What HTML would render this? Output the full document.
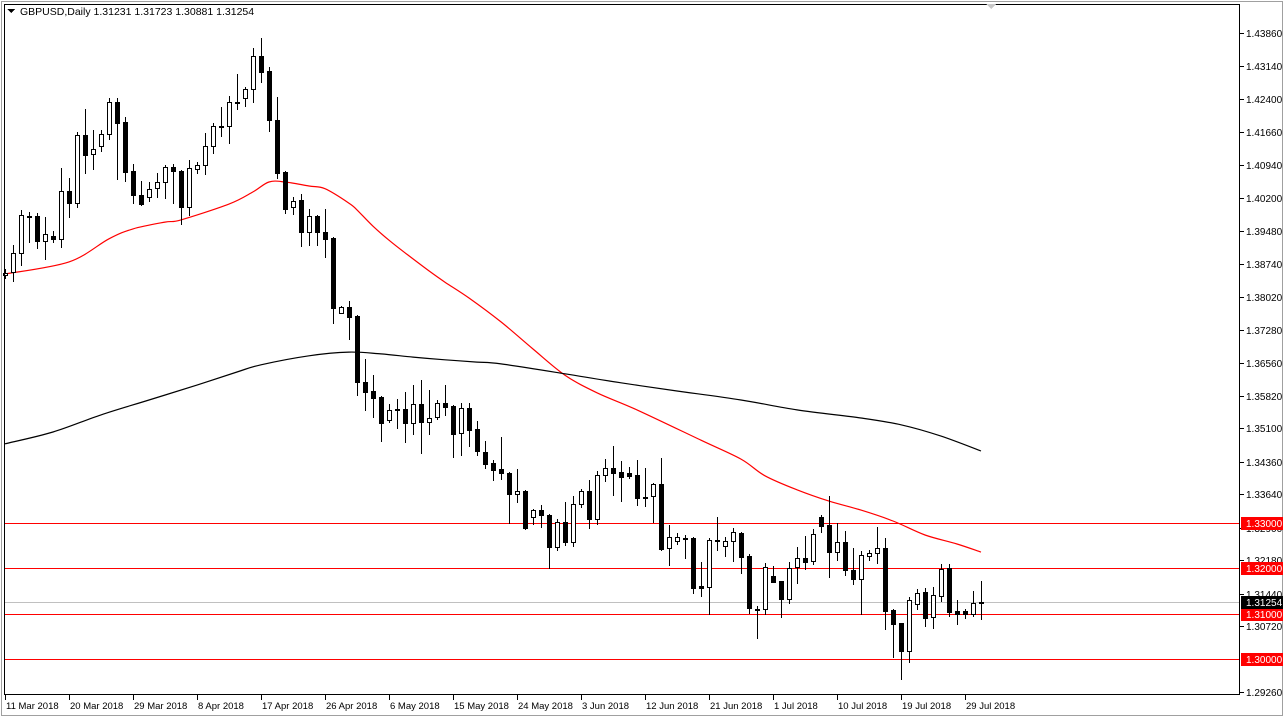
<!DOCTYPE html>
<html><head><meta charset="utf-8"><style>
html,body{margin:0;padding:0;background:#fff;}
svg{display:block;font-family:"Liberation Sans",sans-serif;}
</style></head><body>
<svg id="chart" width="1285" height="719" viewBox="0 0 1285 719" shape-rendering="crispEdges" xmlns="http://www.w3.org/2000/svg">
<rect x="0" y="0" width="1285" height="719" fill="#fff"/>
<rect x="1.5" y="1.5" width="1281" height="714" fill="none" stroke="#a0a0a0" stroke-width="1"/>
<g id="grid"></g>
<g id="levels"></g>
<g id="mas"></g>
<g id="candles"></g>
<rect x="4.5" y="4.5" width="1235" height="690" fill="none" stroke="#000" stroke-width="1"/>
<g id="yaxis"></g>
<g id="xaxis"></g>
<g>
<path d="M7 9 L15 9 L11 13 Z" fill="#000"/>
<text x="20" y="15" font-size="10.5" fill="#000">GBPUSD,Daily  1.31231 1.31723 1.30881 1.31254</text>
</g>
<path d="M986 4 L996 4 L991 9 Z" fill="#c8c8c8"/>
</svg>
<script>
const opens=[1.3850,1.3857,1.3899,1.3981,1.3981,1.3925,1.3936,1.3930,1.4036,1.4009,1.4160,1.4118,1.4136,1.4162,1.4233,1.4189,1.4080,1.4027,1.4023,1.4043,1.4056,1.4089,1.4080,1.4001,1.4085,1.4094,1.4136,1.4180,1.4180,1.4233,1.4242,1.4262,1.4335,1.4302,1.4193,1.4078,1.4001,1.4016,1.3945,1.3981,1.3945,1.3932,1.3766,1.3779,1.3759,1.3613,1.3593,1.3580,1.3529,1.3551,1.3553,1.3522,1.3564,1.3524,1.3535,1.3566,1.3560,1.3500,1.3555,1.3509,1.3458,1.3434,1.3420,1.3411,1.3365,1.3371,1.3314,1.3329,1.3318,1.3247,1.3303,1.3259,1.3343,1.3371,1.3309,1.3407,1.3422,1.3414,1.3411,1.3407,1.3358,1.3360,1.3387,1.3245,1.3261,1.3267,1.3267,1.3161,1.3159,1.3261,1.3250,1.3261,1.3279,1.3228,1.3110,1.3110,1.3183,1.3172,1.3132,1.3203,1.3223,1.3216,1.3314,1.3296,1.3236,1.3259,1.3197,1.3177,1.3228,1.3234,1.3245,1.3108,1.3079,1.3017,1.3121,1.3148,1.3092,1.3139,1.3201,1.3106,1.3106,1.3099,1.3123];
const highs=[1.3863,1.3916,1.3994,1.3990,1.3987,1.3978,1.3947,1.4087,1.4065,1.4167,1.4218,1.4171,1.4171,1.4242,1.4242,1.4200,1.4096,1.4058,1.4056,1.4076,1.4094,1.4096,1.4082,1.4105,1.4100,1.4165,1.4187,1.4222,1.4246,1.4295,1.4266,1.4353,1.4375,1.4311,1.4244,1.4080,1.4023,1.4029,1.3996,1.3983,1.3996,1.3934,1.3781,1.3792,1.3761,1.3664,1.3629,1.3582,1.3564,1.3575,1.3591,1.3606,1.3617,1.3595,1.3573,1.3606,1.3562,1.3566,1.3566,1.3527,1.3482,1.3440,1.3491,1.3414,1.3420,1.3374,1.3332,1.3341,1.3321,1.3309,1.3347,1.3360,1.3376,1.3396,1.3416,1.3442,1.3471,1.3438,1.3425,1.3440,1.3422,1.3389,1.3445,1.3296,1.3278,1.3274,1.3270,1.3214,1.3267,1.3314,1.3270,1.3290,1.3281,1.3232,1.3117,1.3212,1.3205,1.3173,1.3214,1.3247,1.3272,1.3287,1.3318,1.3360,1.3301,1.3283,1.3245,1.3239,1.3241,1.3292,1.3267,1.3109,1.3080,1.3137,1.3154,1.3157,1.3159,1.3210,1.3210,1.3130,1.3110,1.3150,1.3172];
const lows=[1.3843,1.3837,1.3872,1.3923,1.3910,1.3885,1.3923,1.3912,1.3978,1.4001,1.4076,1.4085,1.4125,1.4151,1.4063,1.4058,1.4009,1.4005,1.4014,1.4023,1.4021,1.4009,1.3963,1.3983,1.4076,1.4074,1.4120,1.4158,1.4142,1.4218,1.4224,1.4233,1.4277,1.4169,1.4065,1.3987,1.3985,1.3914,1.3916,1.3916,1.3890,1.3744,1.3765,1.3708,1.3584,1.3551,1.3535,1.3482,1.3524,1.3511,1.3480,1.3498,1.3456,1.3498,1.3531,1.3540,1.3447,1.3451,1.3471,1.3451,1.3422,1.3396,1.3398,1.3301,1.3347,1.3287,1.3298,1.3292,1.3201,1.3241,1.3252,1.3250,1.3336,1.3290,1.3298,1.3394,1.3363,1.3349,1.3400,1.3341,1.3338,1.3303,1.3241,1.3208,1.3254,1.3223,1.3146,1.3139,1.3099,1.3241,1.3228,1.3216,1.3190,1.3101,1.3046,1.3099,1.3169,1.3092,1.3123,1.3168,1.3199,1.3210,1.3281,1.3181,1.3219,1.3186,1.3166,1.3099,1.3219,1.3212,1.3066,1.3004,1.2955,1.2993,1.3110,1.3072,1.3068,1.3128,1.3095,1.3077,1.3090,1.3095,1.3088];
const closes=[1.3854,1.3899,1.3983,1.3978,1.3925,1.3941,1.3930,1.4036,1.4009,1.4160,1.4116,1.4129,1.4162,1.4233,1.4187,1.4078,1.4027,1.4007,1.4040,1.4056,1.4089,1.4080,1.4001,1.4087,1.4094,1.4136,1.4180,1.4181,1.4233,1.4232,1.4262,1.4335,1.4300,1.4193,1.4076,1.3996,1.4014,1.3945,1.3981,1.3945,1.3930,1.3777,1.3779,1.3757,1.3613,1.3591,1.3578,1.3522,1.3551,1.3552,1.3522,1.3564,1.3524,1.3533,1.3566,1.3557,1.3498,1.3555,1.3507,1.3460,1.3431,1.3418,1.3411,1.3365,1.3371,1.3290,1.3329,1.3318,1.3247,1.3303,1.3259,1.3343,1.3371,1.3309,1.3407,1.3422,1.3411,1.3402,1.3405,1.3356,1.3357,1.3387,1.3243,1.3270,1.3270,1.3268,1.3157,1.3157,1.3263,1.3262,1.3261,1.3281,1.3225,1.3112,1.3109,1.3203,1.3170,1.3132,1.3201,1.3223,1.3214,1.3276,1.3294,1.3236,1.3259,1.3197,1.3177,1.3230,1.3234,1.3245,1.3106,1.3077,1.3017,1.3130,1.3146,1.3090,1.3141,1.3199,1.3104,1.3099,1.3099,1.3123,1.3125];
const ma50Idx=[0,8,13,16,20,22,28,31,33,35,38,40,43,44,46,48,50,53,55,58,62,66,70,74,79,87,92,95,99,103,107,111,115,119,122];
const ma50Val=[1.3852,1.3879,1.3930,1.3952,1.3967,1.3972,1.4007,1.4034,1.4056,1.4056,1.4047,1.4041,1.4009,1.3994,1.3958,1.3927,1.3899,1.3859,1.3834,1.3799,1.3746,1.3686,1.3628,1.3589,1.3551,1.3484,1.3442,1.3405,1.3374,1.3349,1.3329,1.3305,1.3274,1.3254,1.3236];
const ma200Idx=[0,6,12,18,24,29,32,38,43,47,51,55,59,62,70,77,84,92,99,107,112,117,122];
const ma200Val=[1.3476,1.3502,1.3540,1.3573,1.3606,1.3635,1.3651,1.3671,1.3679,1.3675,1.3668,1.3662,1.3657,1.3653,1.3631,1.3611,1.3593,1.3573,1.3551,1.3533,1.3518,1.3493,1.3460];
const levelPrices=[1.3300,1.3200,1.3100,1.3000];
const levelLabels=["1.33000","1.32000","1.31000","1.30000"];
const lastPrice=1.31254;
const lastLabel="1.31254";
const yTicks=[1.43860,1.43140,1.42400,1.41660,1.40940,1.40200,1.39480,1.38740,1.38020,1.37280,1.36560,1.35820,1.35100,1.34360,1.33640,1.32900,1.32180,1.31440,1.30720,1.29260];
const yTickLabels=["1.43860","1.43140","1.42400","1.41660","1.40940","1.40200","1.39480","1.38740","1.38020","1.37280","1.36560","1.35820","1.35100","1.34360","1.33640","1.32900","1.32180","1.31440","1.30720","1.29260"];
const xTickIdx=[0,8,16,24,32,40,48,56,64,72,80,88,96,104,112,120];
const xTickLabels=["11 Mar 2018","20 Mar 2018","29 Mar 2018","8 Apr 2018","17 Apr 2018","26 Apr 2018","6 May 2018","15 May 2018","24 May 2018","3 Jun 2018","12 Jun 2018","21 Jun 2018","1 Jul 2018","10 Jul 2018","19 Jul 2018","29 Jul 2018"];

const NS="http://www.w3.org/2000/svg";
function Y(p){return 33+(1.4386-p)*4514;}
function X(i){return 5+8*i;}
function mk(tag,attrs,parent){const e=document.createElementNS(NS,tag);for(const k in attrs)e.setAttribute(k,attrs[k]);parent.appendChild(e);return e;}

const gC=document.getElementById('candles');
for(let i=0;i<opens.length;i++){
  const o=opens[i],h=highs[i],l=lows[i],c=closes[i];
  const x=X(i);
  const g=mk('g',{},gC);
  
  
  const w=mk('line',{x1:x+0.5,x2:x+0.5,y1:Math.round(Y(h)),y2:Math.round(Y(l))+1,stroke:'#000','stroke-width':1},g);
  
  
  const top=Math.round(Y(Math.max(o,c))),bot=Math.round(Y(Math.min(o,c)));
  const bull=c>o;
  const hgt=Math.max(bot-top,1);
  const b=mk('rect',{x:x-1.5,y:top+0.5,width:4,height:hgt,fill:bull?'#fff':'#000',stroke:'#000','stroke-width':1},g);
  
  
}

const gM=document.getElementById('mas');
function maPath(idx,val,color,name){
  const pts=idx.map((v,k)=>[X(v),Y(val[k])]);
  let d='M'+pts[0][0]+' '+pts[0][1].toFixed(1);
  for(let k=0;k<pts.length-1;k++){
    const p0=pts[Math.max(k-1,0)],p1=pts[k],p2=pts[k+1],p3=pts[Math.min(k+2,pts.length-1)];
    const c1x=p1[0]+(p2[0]-p0[0])/6,c1y=p1[1]+(p2[1]-p0[1])/6;
    const c2x=p2[0]-(p3[0]-p1[0])/6,c2y=p2[1]-(p3[1]-p1[1])/6;
    d+=' C'+c1x.toFixed(1)+' '+c1y.toFixed(1)+' '+c2x.toFixed(1)+' '+c2y.toFixed(1)+' '+p2[0]+' '+p2[1].toFixed(1);
  }
  const p=mk('path',{d:d,fill:'none',stroke:color,'stroke-width':1.2,'shape-rendering':'auto'},gM);
  
  
}
maPath(ma50Idx,ma50Val,'#ff0000','ma-50-line');
maPath(ma200Idx,ma200Val,'#000000','ma-200-line');

const gL=document.getElementById('levels');
const gY=document.getElementById('yaxis');
const cur=mk('line',{x1:4,x2:1240,y1:Math.round(Y(lastPrice))+0.5,y2:Math.round(Y(lastPrice))+0.5,stroke:'#c0c0c0','stroke-width':1},gL);


for(let k=0;k<levelPrices.length;k++){
  const y=Math.round(Y(levelPrices[k]))+0.5;
  const ln=mk('line',{x1:4,x2:1240,y1:y,y2:y,stroke:'#ff0000','stroke-width':1},gL);
  
  
}
for(let k=0;k<yTicks.length;k++){
  const y=Math.round(Y(yTicks[k]));
  mk('line',{x1:1240,x2:1244,y1:y+0.5,y2:y+0.5,stroke:'#000'},gY);
  const t=mk('text',{x:1246,y:y+4,'font-size':10,fill:'#000'},gY);
  t.textContent=yTickLabels[k];
  
  
}
for(let k=0;k<levelPrices.length;k++){
  const y=Math.round(Y(levelPrices[k]));
  mk('rect',{x:1241,y:y-6,width:42,height:13,fill:'#ff0000'},gY);
  const t=mk('text',{x:1246,y:y+4,'font-size':10,fill:'#fff'},gY);
  t.textContent=levelLabels[k];
  
  
}
{
  const y=Math.round(Y(lastPrice));
  mk('rect',{x:1241,y:y-6,width:42,height:13,fill:'#000'},gY);
  const t=mk('text',{x:1246,y:y+4,'font-size':10,fill:'#fff'},gY);
  t.textContent=lastLabel;
  
  
}
const gX=document.getElementById('xaxis');
for(let k=0;k<xTickIdx.length;k++){
  const x=X(xTickIdx[k]);
  mk('line',{x1:x+0.5,x2:x+0.5,y1:695,y2:700,stroke:'#000'},gX);
  const t=mk('text',{x:x+1,y:709,'font-size':9.5,fill:'#000'},gX);
  t.textContent=xTickLabels[k];
  
  
}
</script>
</body></html>
